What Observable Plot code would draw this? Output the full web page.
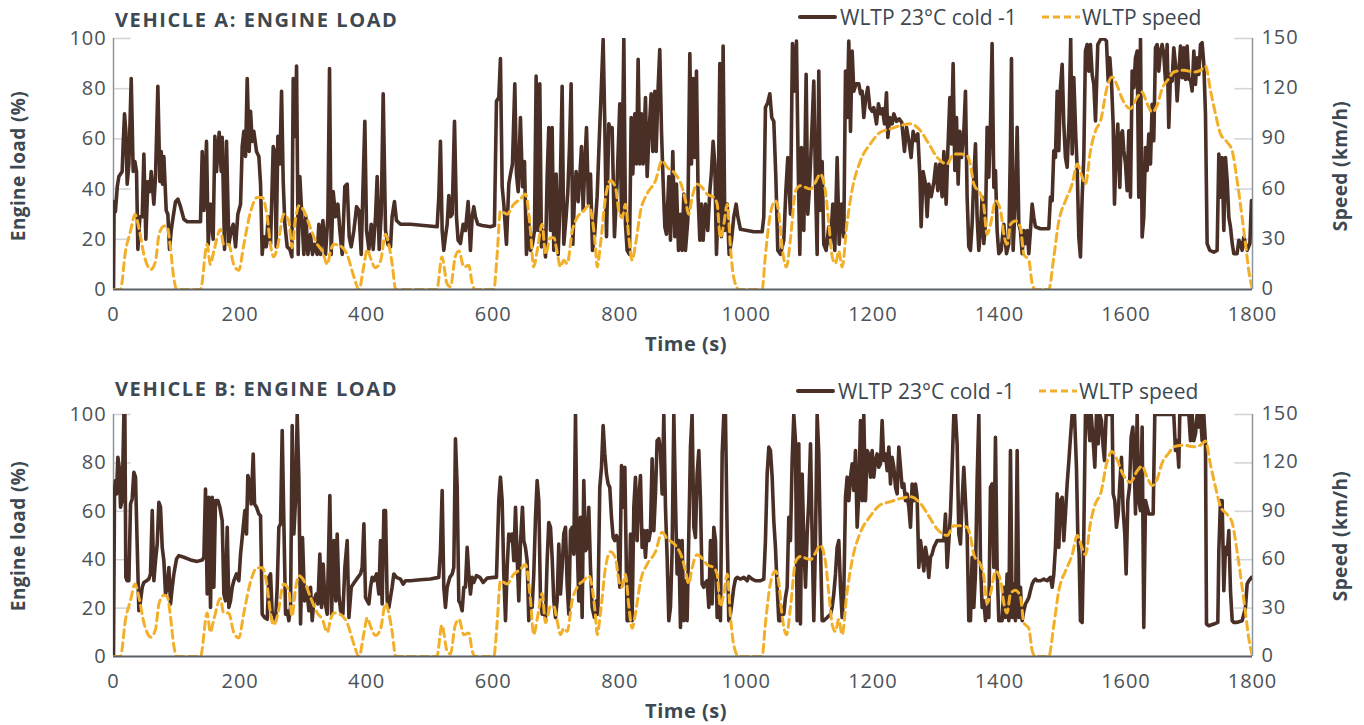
<!DOCTYPE html>
<html>
<head>
<meta charset="utf-8">
<script src="https://cdn.jsdelivr.net/npm/d3@7"></script>
<script src="https://cdn.jsdelivr.net/npm/@observablehq/plot@0.6"></script>
<style>
  html, body { margin: 0; padding: 0; background: #fff; }
  body { font-family: "Open Sans", Lato, sans-serif; }
  #root { position: relative; width: 1364px; height: 725px; overflow: hidden; }
  .panel { position: absolute; left: 0; }
  .title { position: absolute; left: 115px; font-weight: 700; font-size: 20px; color: #3d4850; letter-spacing: 1.6px; line-height: 24px; }
  .legtext { position: absolute; font-size: 21px; color: #3d4850; white-space: nowrap; line-height: 24px; }
  .swatch { position: absolute; }
  .ylab { position: absolute; font-weight: 700; font-size: 19px; color: #3d4850; white-space: nowrap; letter-spacing: 0.4px; line-height: 22px; transform: translate(-50%, -50%) rotate(-90deg); }
  .xlab { position: absolute; font-weight: 700; font-size: 20px; color: #3d4850; white-space: nowrap; letter-spacing: 0.5px; line-height: 22px; transform: translate(-50%, -50%); }
</style>
</head>
<body>
<div id="root">
  <div class="panel" id="panelA" style="top:0"></div>
  <div class="panel" id="panelB" style="top:364px"></div>

  <div class="title" style="top:8px">VEHICLE A: ENGINE LOAD</div>
  <div class="title" style="top:377px">VEHICLE B: ENGINE LOAD</div>

  <svg class="swatch" style="left:798px;top:13px" width="40" height="8"><line x1="2" y1="4" x2="37" y2="4" stroke="#4a2f26" stroke-width="4" stroke-linecap="round"/></svg>
  <div class="legtext" style="left:840px;top:5px">WLTP 23°C cold -1</div>
  <svg class="swatch" style="left:1042px;top:13px" width="40" height="8"><line x1="0" y1="4" x2="38" y2="4" stroke="#f2b02a" stroke-width="3" stroke-dasharray="7,4"/></svg>
  <div class="legtext" style="left:1082px;top:5px">WLTP speed</div>

  <svg class="swatch" style="left:796px;top:387px" width="40" height="8"><line x1="2" y1="4" x2="37" y2="4" stroke="#4a2f26" stroke-width="4" stroke-linecap="round"/></svg>
  <div class="legtext" style="left:838px;top:379px">WLTP 23°C cold -1</div>
  <svg class="swatch" style="left:1039px;top:387px" width="40" height="8"><line x1="0" y1="4" x2="38" y2="4" stroke="#f2b02a" stroke-width="3" stroke-dasharray="7,4"/></svg>
  <div class="legtext" style="left:1079px;top:379px">WLTP speed</div>

  <div class="ylab" style="left:18px;top:166px">Engine load (%)</div>
  <div class="ylab" style="left:1340px;top:166px">Speed (km/h)</div>
  <div class="xlab" style="left:686px;top:344px">Time (s)</div>

  <div class="ylab" style="left:18px;top:536px">Engine load (%)</div>
  <div class="ylab" style="left:1340px;top:536px">Speed (km/h)</div>
  <div class="xlab" style="left:686px;top:711px">Time (s)</div>
</div>

<script>
// Axis ticks
const timeTicks = [0, 200, 400, 600, 800, 1000, 1200, 1400, 1600, 1800];
const loadTicks = [0, 20, 40, 60, 80, 100];
const speedTicks = [0, 30, 60, 90, 120, 150];
const speedMax = 150;

// WLTP speed trace: [time (s), speed (km/h)]
const wltpSpeed = [[0,0],[11,0],[19,23],[27,35],[34,45],[40,37],[48,21],[59,12],[66.5,17],[72,33],[80,38],[85,37],[90,25],[95,7.5],[100,0],[137.5,0],[148,27],[153,15],[158.6,23],[169,36],[174,27],[182,27],[190,15],[198,11.5],[206,27],[217,47],[227,55],[235,55],[243,43],[248,27],[253,19.5],[259,25],[269,45],[277,41],[282,25],[288,43],[293,50],[301,47],[311,37],[322,27],[330,23],[338,15],[343,23],[348,27],[359,26],[369,21],[380,7.5],[388,0],[396,15],[401,24],[406,19],[414,13],[422,17],[430,33],[435,27],[440.5,15],[446,0],[511,0],[519,19.4],[527,3.6],[532.5,1.6],[540,19.4],[546,23],[553.6,13.5],[561.5,14.5],[566.8,3.6],[572,0],[601,0],[606,19.4],[611.5,47],[622,45],[632.6,51],[643,54],[651,57],[659,35],[664,13.5],[669.5,23],[677.4,39],[682.7,21],[690.6,31],[696,31],[701,22.4],[706.4,13.5],[711.6,17.5],[717,15.5],[725,35],[732.7,43],[743,47],[751,50],[756.4,43],[761.7,25],[764.3,13.5],[769.6,27],[777.5,55],[785.4,65],[793.3,61],[798.6,47],[803.8,43],[809,51],[814.4,31],[819.6,17.5],[825,27],[833,47],[843,57],[856.5,65],[867,77],[875,73],[888,69],[898.6,61],[904,53],[909,45],[914.4,55],[922,63],[930,61],[938,57],[948.7,55],[954,51],[959,31],[964.5,39],[970,51],[975,25],[980,7.5],[988,0],[1025,0],[1030,19.4],[1038,45],[1046,53],[1051,47],[1056.7,25],[1063.5,13.5],[1070,31],[1078,59],[1085.6,62],[1093.5,61],[1101.5,60],[1109,64],[1117,69],[1125,59],[1130,41],[1136,19.4],[1141,15.5],[1146,23],[1151.5,13.5],[1159,39],[1167,59],[1180.5,77],[1196,87],[1212,94],[1228,96],[1244,98],[1259.5,99],[1275,95],[1288.5,87],[1301.6,79],[1317.4,75],[1328,81],[1338.5,81],[1349,80],[1354,75],[1359.6,63],[1370,57],[1375,51],[1380.6,33],[1386,39],[1394,53],[1402,47],[1407,33],[1412.2,27],[1417.5,39],[1425.4,41],[1433.3,37],[1438.6,21],[1446.5,17.5],[1451.8,3.6],[1457,0],[1478,0],[1486,19.4],[1494,41],[1504.4,53],[1515,63],[1523,75],[1531,67],[1536,63],[1544,83],[1552,95],[1560,101],[1570.3,121],[1578,127],[1586,122],[1594,114],[1607,108],[1617.7,115],[1625.6,118],[1633.5,111],[1641.4,106],[1649.3,110],[1657.2,120],[1667.7,126],[1675.6,130],[1691.5,131],[1707.3,130],[1717.8,131],[1725.7,133.5],[1733.6,119],[1741.5,105],[1749.4,93],[1760,88],[1767.8,83],[1775.7,65],[1783.6,43],[1789,27],[1794,11.5],[1800,0]];

// Vehicle A engine load: [time (s), load (%)]
const loadA = [[0,0],[1,35],[3,31],[6,41],[8.5,45],[13.7,47],[15.3,58],[17.4,70],[19.5,63],[21.6,42],[24.3,50],[28,84],[31.1,47],[33.8,51],[36.4,47],[38.5,16],[41.7,29],[45.4,29],[48,54],[51.1,20],[54.3,43],[57.5,39],[59.6,47],[63.8,34],[66.4,45],[70.1,81],[73.3,43],[75.4,55],[77.5,42],[79.6,53],[83.3,31.5],[85.9,30],[88.5,16],[91.2,23.5],[94.3,29],[98,35],[101.7,36],[105.9,33],[111.2,28],[116.5,27],[132.3,27],[137.5,27],[140.2,55],[142.8,31.5],[147,59],[149.7,18],[153.3,34],[157.5,20],[160.2,61],[162.8,47],[167,62.6],[170.2,47],[171.8,60.6],[175.5,16],[178.6,59],[182.3,18],[186,23.5],[189.2,26],[192.9,17],[196.5,30],[200.8,34],[203.4,57],[206,63],[208.7,53],[211.3,84],[214.4,55],[216.6,71],[219.2,59],[221.8,63],[226,55],[229.7,53],[232.4,42],[235,14],[237.6,21],[241.3,17],[244.5,29],[248.2,18],[252.4,57],[254.5,55],[257.1,17],[259.8,61],[262.9,50],[265.6,79],[268.2,43],[270.8,26],[274.5,17],[278.7,16],[281.9,13],[284,84],[287.1,61],[289.3,89],[291.9,14],[294.5,45],[297.7,29],[300.8,14],[304,29],[307.2,14],[311.4,22],[314.5,14],[317.7,18],[321.9,14],[324.5,26],[327.2,14],[330.9,27.5],[335.1,14],[338.8,29],[341.4,88],[344,14],[347.2,39],[350.9,29],[354.6,34],[357.7,23.5],[361.4,14],[365.6,41],[369.3,42],[372.5,21],[375.7,17],[379.9,23.5],[384.1,33],[387.8,31.5],[391.5,14],[394.1,39],[397.2,67],[399.9,23.5],[403.6,16],[407.3,26],[410.4,16],[414.1,29],[416.7,45],[419.9,16],[423.1,30],[426.2,78],[429.9,23.5],[433.6,18],[437.8,17],
[440.3,29],[444,35],[447.2,27.5],[453.5,26],[469.3,26],[490.4,25.5],[511.5,25],[514.1,37],[516.7,59],[519.4,23.5],[522,15.6],[524.6,21],[527.3,26],[529.9,37.4],[532.5,29],[535.2,30],[538.9,67],[542,29],[544.6,19.6],[548.3,18.3],[552.5,26],[556.2,23.5],[560.4,35],[564.1,15.6],[566.8,29],[569.4,33],[572,29],[575.7,26],[582.6,25.5],[595.7,25],[602,25.5],[605.2,75],[608.9,76.5],[611.5,92],[614.2,41],[616.8,34],[621,18],[624.7,42],[627.4,46],[630.5,50],[634.2,82],[636.8,46],[639.5,39],[643.1,68.5],[646.3,41],[649.5,51],[652.6,14],[655.8,29],[659,15.6],[662.1,18],[665.3,23.5],[667.9,85],[670.5,23.5],[673.7,82],[676.3,17],[679,23.5],[682.7,13],[685.3,45],[687.9,64.5],[690.6,23.5],[693.2,64.5],[695.8,15.6],[699.5,46],[702.7,14],[705.3,31.5],[709,81],[711.6,18],[715.3,29],[718,39],[720.6,56.6],[723.2,82],[725.9,18],[728.5,37],[731.1,47],[734.3,35],[736.9,45],[739.6,57],[742.2,31.5],[744.8,50],[747.5,64.5],[750.6,34],[753.8,46],[757,15.6],[760.1,21],[764.3,37],[768,62],[771.2,82],[773.8,99.6],[776.4,66],[779.1,21],[782.8,66],[785.4,63],[788,64.5],[791.7,21],[795.9,43],[800.1,74],[802.8,29],[806.5,100],[809.1,26],[811.7,15.6],[815.4,14],[818.1,68.5],[820.7,46],[823.8,70],[826.5,50],[829.1,91.7],[831.7,50],[834.4,70],[837,50],[840.7,76.5],[843.3,45],[846.5,63],[849.7,78],[852.3,55],[855.5,79],[857.6,55],[860.7,80.5],[863.3,95.6],[866,63],[868.6,43],[871.3,25],[873.9,22],[877.6,45],[880.2,19.6],[883.9,55],[887.1,21],[889.7,42],[892.9,15.6],
[896,30],[898.6,15.6],[901.3,38],[903.9,15.6],[907.6,27.5],[910.8,94],[913.4,50],[916,84],[918.7,52.6],[921.3,87],[923.9,37],[926.6,19.6],[929.2,34],[931.8,19.6],[935.5,34],[939.2,23.5],[942.4,39],[945,47],[947.6,59],[950.3,50],[952.9,14],[955.5,34],[958.2,90],[960.8,21],[963.4,97],[966.1,23.5],[969.8,34],[972.9,14],[976.6,19.6],[980.3,29],[984,34],[986.6,29],[990.8,24],[1001.4,23.5],[1011.9,23],[1025.1,23],[1027.7,29],[1030.3,72.5],[1034,74.5],[1037.2,78],[1040.3,68.5],[1043.5,67],[1046.7,45],[1049.8,15.6],[1054,14],[1059.3,19.6],[1062.5,39],[1065.6,52.6],[1069.8,30],[1073,98],[1076.2,79],[1079.3,99],[1082,50],[1084.6,14],[1087.2,56.6],[1090.9,23.5],[1094.6,85.7],[1097.2,30],[1099.9,41],[1103,59],[1106.7,83],[1109.4,42],[1112,14],[1114.6,87],[1117.3,31.5],[1119.9,51],[1122.5,18],[1126.2,15.6],[1130.4,25],[1133.1,18],[1136.7,34],[1139.9,15.6],[1143.6,52.6],[1146.8,18],[1150.4,34],[1154.1,21],[1156.8,87],[1159.4,68.5],[1162,99],[1164.7,63],[1167.3,95],[1169.9,79],[1173.6,82],[1177.8,82],[1180.5,78],[1183.1,79],[1185.7,68.5],[1188.9,76.5],[1192.1,80.5],[1195.2,72.5],[1198.9,71],[1201.5,72.5],[1205.8,66],[1208.9,74],[1212.1,70],[1215.2,72],[1218.4,66],[1221.6,78.4],[1223.7,60.6],[1226.8,68.5],[1230.5,66],[1233.2,70],[1237.4,67],[1241.6,68],[1245.8,66.5],[1250,55],[1253.2,64.6],[1256.9,59.3],[1260.5,52.6],[1263.7,63],[1267.4,59.3],[1271.1,62],[1274.2,46],[1276.3,25],[1279.5,47],[1283.2,42],[1285.8,29],[1288.5,42],[1292.2,37],[1296.4,42.7],[1299.5,50],[1302.7,39.4],[1305.9,50],[1309.5,37],[1312.2,55],[1315.9,34],[1318.5,55],[1321.7,76.5],[1324.3,58],[1326.9,90],[1329.6,47.4],[1332.2,68.5],[1334.8,42],[1337.5,63],[1340.1,52.6],[1343.8,63],[1346.4,79],[1349,37],[1351.7,17],
[1354.3,15.6],[1356.9,26],[1359.6,44.7],[1362.2,58],[1364.8,28.8],[1367.5,15.6],[1370.1,23.5],[1372.7,36.8],[1375.4,18.3],[1378,26],[1380.6,64.6],[1383.3,44.7],[1385.9,66],[1388.5,98],[1391.2,40.7],[1393.8,47.4],[1396.4,23.5],[1399.1,14.3],[1402.8,15.6],[1407,26],[1411.2,14.3],[1414.9,18.3],[1417.5,58],[1419.1,92],[1421.7,15.6],[1425.4,36.8],[1428.1,64.6],[1430.7,26],[1433.3,23.5],[1436,14.3],[1438.6,23.5],[1441.2,18.3],[1443.9,23.5],[1446.5,14.3],[1449.1,23.5],[1451.8,34],[1454.4,28.8],[1457,25],[1464.9,24.2],[1478.1,24.2],[1480.7,36.8],[1483.4,35.4],[1486,55.3],[1488.6,52.6],[1491.3,79],[1493.9,55.3],[1496.5,80.4],[1499.2,89.7],[1501.8,65.9],[1504.4,52.6],[1507.1,48.7],[1510.2,68.5],[1512.7,100],[1515,54],[1517.6,84.4],[1520.8,60.6],[1522.9,48.7],[1525.5,20.9],[1528.1,13],[1530.8,36.8],[1533.4,52.6],[1536,95],[1538.7,97.6],[1541.3,87],[1543.9,97.6],[1546.6,85.7],[1549.2,81.7],[1551.9,67.2],[1555.5,97.6],[1559.8,99.6],[1565,100],[1569.2,99],[1571.9,83],[1574.5,92.3],[1577.1,83],[1579.8,65.9],[1581.9,34],[1584.5,55.3],[1587.1,65.9],[1590.3,40.7],[1592.4,61.9],[1594.5,63.2],[1596.6,55.3],[1599.3,50],[1601.9,39.4],[1604.5,63.2],[1607.2,36.8],[1609.8,87],[1612.4,80.4],[1615.1,92.3],[1617.7,95],[1620.3,36.8],[1623,100],[1625.6,20.9],[1628.2,28.8],[1630.9,56.6],[1633.5,47.4],[1636.1,61.9],[1638.8,50],[1641.4,73.8],[1644,59.3],[1646.7,96.3],[1649.3,97.6],[1651.9,87],[1654.6,95],[1657.2,97.6],[1659.8,93.7],[1662.5,83],[1665.1,97.6],[1667.7,64.6],[1670.4,85.7],[1673,83],[1675.6,96.3],[1678.3,89.7],[1680.9,75.1],[1683.5,85.7],[1686.2,97],[1688.8,84.4],[1691.5,96.3],[1694.1,83.7],[1696.7,97],[1699.4,83.7],[1702,83.7],[1704.6,79.1],[1707.3,95],[1709.9,81.7],[1712.5,92.3],[1715.2,85.7],[1717.8,97.6],[1720.4,98.3],[1723.1,89.7],[1725.7,69.8],[1728.3,18.3],[1732.5,15.6],[1738.9,14.9],[1744.1,15.6],[1746.8,54],[1749.4,36.8],[1752,52.6],[1754.7,23.5],[1757.3,52.6],[1760,43.4],[1762.6,28.8],[1765.2,24.9],[1767.9,18.3],[1770.5,14.3],[1775.7,14.3],[1778.4,19.6],[1781,18.3],[1783.6,15.6],[1786.3,20.9],[1788.9,18.3],[1791.5,15.6],[1795.8,18.3],[1798.4,35.4]];

// Vehicle B engine load: [time (s), load (%)]
const loadB = [[0,0],[1.6,68.6],[3.2,72.7],[4.8,67.2],[6.9,82.3],[9,78.2],[11.1,61.7],[13.7,64.4],[16.4,100],[18,100],[19.5,32.7],[21.6,31.3],[24.3,31.3],[26.9,63],[29.5,65.1],[32.2,76.1],[34.8,74.1],[37.4,46.5],[40.1,18.9],[42.7,23],[45.4,28.6],[48,30.6],[52.2,31.3],[55.9,32],[58.5,34.1],[61.2,60.3],[63.8,31.3],[66.4,39.6],[69.1,46.5],[71.7,63.7],[74.3,61.7],[77,45.1],[79.6,39.6],[82.2,25.8],[84.9,28.6],[87.5,36.8],[90.1,21.7],[92.8,28.6],[95.4,34.1],[99.6,40.3],[103.3,41.7],[111.2,41],[121.7,39.9],[132.3,39.3],[140.2,39.9],[142.8,41],[145.4,69.2],[148.1,25.8],[150.7,65.8],[153.3,20.3],[156,65.8],[158.6,28.6],[161.2,64.4],[164.9,64.4],[168.1,61.7],[171.8,56.1],[174.4,25.8],[177,23],[179.7,53.4],[182.3,20.3],[184.9,23],[187.6,28.6],[190.2,31.3],[194.4,34.1],[198.1,31.3],[200.8,42.3],[205,53.4],[207.6,60.3],[210.2,50.6],[212.3,74.8],[215.5,71.3],[217.6,63],[220.8,83.7],[222.9,63],[226,61.7],[229.7,58.9],[232.4,58.2],[235,17.5],[238.7,16.1],[242.9,15.4],[245.5,32.7],[248.2,34.1],[250.8,17.5],[253.4,17.5],[256.1,14.8],[258.7,28.6],[261.3,53.4],[264,54.8],[266.6,93.4],[269.2,56.1],[271.9,17.5],[274.5,18.9],[277.1,14.8],[279.8,20.3],[282.4,95.4],[285,50.6],[287.7,64.4],[290.3,100],[292.9,74.1],[295.6,13.4],[298.7,49.2],[301.9,23],[305,28.6],[308.8,18.9],[311.4,28.6],[314,14.8],[316.7,23],[320.3,25.8],[323,21.7],[326.1,42.3],[328.8,20.3],[331.4,38.2],[334,23],[337.7,17.5],[341.9,66.5],[344.6,17.5],[348.3,47.9],[351.4,23],[353.5,50.6],[356.2,25.8],[358.8,18.9],[362.5,17.5],[365.6,36.8],[369.3,47.9],[372,16.1],[375.7,28.6],[378.8,29.9],[382.5,31.3],[386.2,32.7],[390.4,34.1],[393,36.8],[395.7,54.8],[398.3,24.4],[401,23],[403.6,21.7],[406.2,28.6],[408.8,32.7],[411.5,31.3],[415.7,34.1],[419.4,25.8],[422,47.9],[424.6,21.7],[427.3,60.3],[429.9,60.3],[432.5,23],[435.2,20.3],
[440.3,28.6],[443,34.1],[447.2,32.7],[453.5,32],[457.7,29.9],[461.4,31.3],[469.3,31.3],[485.1,31.7],[500.9,32],[514.1,32.7],[516.7,43.7],[519.4,68.6],[522,28.6],[524.6,20.3],[527.3,28.6],[531.5,32.7],[535.2,34.1],[537.8,36.8],[540.4,90],[543.1,69.9],[545.7,23],[548.3,21.7],[551,18.9],[553.6,28.6],[556.2,28.6],[558.9,45.1],[561.5,34.1],[564.1,25.8],[566.8,32.7],[569.4,30.6],[573.6,33.4],[578.9,32.7],[584.2,30.6],[590.5,32.4],[601,32.7],[605.2,32.7],[608.9,64.4],[611.5,74.1],[614.2,64.4],[616.8,34.1],[619.5,14.8],[622.1,36.8],[624.7,50.6],[627.4,47.9],[630,50.6],[632.6,39.6],[635.3,61.7],[637.9,41],[640.5,23],[643.1,46.5],[646.3,61.7],[648.4,47.9],[651,45.1],[653.7,39.6],[656.3,14.8],[659,23],[661.6,20.3],[664.2,34.1],[666.9,57.5],[669.5,72.7],[672.1,64.4],[674.8,23],[677.4,17.5],[680,20.3],[682.7,16.1],[685.3,39.6],[687.9,55.4],[690.6,53.4],[693.2,41],[695.8,23],[698.5,16.1],[701.1,23],[703.7,46.5],[706.4,25.8],[709,36.8],[711.6,50.6],[714.3,53.4],[716.9,29.9],[719.5,17.5],[722.2,52],[724.8,53.4],[727.4,42.3],[730.1,100],[732.7,47.9],[735.3,23],[738,57.5],[740.6,16.1],[743.2,72.7],[745.9,43.7],[748.5,45.1],[751.1,61.7],[753.8,36.8],[756.4,20.3],[760.1,16.1],[763.3,23],[765.4,17.5],[768.5,69.9],[771.2,78.2],[773.8,95.4],[776.4,83.7],[779.1,75.4],[781.7,71.3],[784.3,69.9],[787,57.5],[789.6,49.2],[792.2,47.9],[794.9,50],[797.5,47.9],[800.1,28.6],[802.8,78.9],[805.4,61.7],[808.1,78.2],[811.7,14.8],[814.4,14.8],[817,50.6],[819.6,14.8],[822.3,61.7],[824.9,74.1],[827.5,47.9],[830.2,65.8],[832.8,74.8],[835.4,45.1],[838.1,52],[840.7,41],[843.3,52],[846,47.9],[848.6,52],[851.2,81.7],[853.9,52],[856.5,67.2],[859.1,89.2],[861.8,90],[864.4,85.1],[867,67.2],[869.7,100],[872.3,61.7],[874.9,41],[877.6,14.8],[880.2,20.3],[882.8,43.7],[885.5,100],[888.1,64.4],[890.7,34.1],[893.4,47.9],
[896,12],[898.6,47.9],[901.3,14.8],[903.9,31.3],[906.5,14.8],[909.2,50.6],[911.8,86.5],[914.4,100],[917.1,53.4],[919.7,49.2],[922.3,75.4],[925,85.1],[927.6,64.4],[930.2,29.9],[932.9,28.6],[935.5,30.6],[938.1,31.3],[940.8,20.3],[943.4,47.9],[946,21.7],[948.7,53.4],[951.3,47.9],[954,16.1],[956.6,23],[959.2,14.8],[961.9,83.7],[964.5,100],[967.1,100],[969.8,50.6],[972.4,14.8],[975,17.5],[977.7,23],[980.3,28.6],[982.9,32],[985.6,32.7],[990.8,32],[996.1,32.7],[1001.4,31.3],[1004,33.1],[1009.3,32],[1014.5,31.3],[1022.4,31.3],[1027.7,32],[1030.3,47.9],[1033,75.4],[1035.6,86.5],[1038.2,85.1],[1040.9,74.1],[1043.5,56.1],[1046.1,45.1],[1048.8,28.6],[1051.4,14.8],[1054,14.8],[1056.7,20.3],[1059.3,17.5],[1061.9,24.4],[1064.6,28.6],[1067.2,57.5],[1069.8,47.9],[1072.5,81],[1075.1,100],[1077.7,89.2],[1080.4,14.8],[1083,87.9],[1085.6,13.4],[1088.3,75.4],[1090.9,47.9],[1093.6,28.6],[1096.2,50.6],[1098.8,64.4],[1101.5,87.9],[1104.1,49.2],[1106.7,14.8],[1109.4,47.9],[1112,100],[1114.6,83.7],[1117.3,45.1],[1119.9,14.8],[1122.5,14.8],[1127.8,16.1],[1133.1,17.5],[1135.7,20.3],[1138.3,25.8],[1141,34.1],[1143.6,45.1],[1146.2,47.9],[1148.9,28.6],[1151.5,16.1],[1154.1,25.8],[1156.8,65.8],[1159.4,74.1],[1162,64.4],[1164.7,74.1],[1167.3,79.6],[1169.9,68.6],[1172.6,85.1],[1175.2,53.4],[1177.8,67.2],[1180.5,97.5],[1183.1,64.4],[1185.7,100],[1188.4,64.4],[1191,85.1],[1193.6,83.7],[1196.3,74.1],[1198.9,85.1],[1201.5,74.1],[1204.2,81],[1206.8,83.7],[1209.4,78.2],[1212.1,79.6],[1214.7,97.5],[1217.3,81],[1220,83.7],[1222.6,76.8],[1225.3,86.5],[1227.9,71.3],[1230.5,82.3],[1233.2,78.2],[1235.8,69.9],[1238.4,67.2],[1241.1,86.5],[1243.7,78.2],[1246.3,69.9],[1249,71.3],[1251.6,64.4],[1254.2,67.2],[1256.9,61.7],[1259.5,53.4],[1262.1,71.3],[1264.8,64.4],[1267.4,71.3],[1270,65.8],[1272.7,36.8],[1275.3,47.9],[1277.9,42.3],[1280.6,35.4],[1283.2,45.1],[1285.8,41],[1288.5,32.7],[1291.1,41],[1293.7,42.3],[1296.4,45.1],[1299,46.5],[1301.6,47.9],[1306.9,47.9],[1312.2,47.9],[1314.8,58.9],[1317.4,36.8],[1320.1,47.9],[1322.7,58.9],[1325.3,78.2],[1328,100],[1330.6,100],[1333.2,87.9],[1335.9,50.6],[1338.5,46.5],[1341.1,64.4],[1343.8,78.2],[1346.4,64.4],[1349,50.6],[1351.7,14.8],
[1354.3,14.8],[1356.9,41],[1359.6,20.3],[1362.2,34.1],[1364.8,72.7],[1367.5,100],[1370.1,39.6],[1372.7,20.3],[1375.4,23],[1378,14.8],[1380.6,20.3],[1383.3,16.1],[1385.9,69.9],[1388.5,71.3],[1391.2,36.8],[1393.8,90.6],[1396.4,36.8],[1399.1,14.8],[1404.3,14.8],[1407,28.6],[1409.6,16.1],[1412.2,34.1],[1414.9,14.8],[1417.5,85.1],[1420.2,16.1],[1422.8,29.9],[1425.4,14.8],[1428.1,85.1],[1430.7,16.1],[1433.3,28.6],[1436,14.8],[1438.6,18.9],[1441.2,21.7],[1443.9,23],[1446.5,24.4],[1449.1,27.2],[1451.8,29.9],[1454.4,31.3],[1457,32],[1459.7,31.3],[1464.9,31.3],[1470.2,32],[1475.5,31.3],[1480.7,32.7],[1483.4,28.6],[1486,34.1],[1488.6,45.1],[1491.3,67.2],[1493.9,45.1],[1496.5,64.4],[1499.2,65.8],[1501.8,47.9],[1504.4,58.9],[1507.1,71.3],[1510.2,82.3],[1512.7,92],[1515,100],[1518.7,100],[1521.8,78.2],[1523.9,50.6],[1526,42.3],[1528.1,14.8],[1530.8,14.1],[1533.4,50.6],[1536,100],[1539.7,100],[1542.9,89.2],[1545,100],[1548.2,89.2],[1550.8,78.2],[1553.4,100],[1556.1,87.9],[1558.7,100],[1561.3,97.5],[1564,86.5],[1566.1,81],[1568.7,100],[1572.9,100],[1578.2,100],[1579.8,67.2],[1582.4,64.4],[1585,53.4],[1587.7,58.9],[1590.3,71.3],[1592.9,82.3],[1595.6,60.3],[1598.2,50.6],[1600.3,34.1],[1603,64.4],[1605.6,69.9],[1608.2,90.6],[1610.9,94.8],[1612.4,86.5],[1615.1,58.9],[1617.7,100],[1620.3,64.4],[1623,60.3],[1625.6,94.8],[1628.2,12],[1630.9,64.4],[1633.5,61.7],[1636.1,58.9],[1638.8,58.9],[1643,58.9],[1645.6,100],[1651.9,100],[1659.8,100],[1670.4,100],[1675.6,100],[1678.3,85.1],[1680.9,89.2],[1683.5,78.2],[1685.1,100],[1691.5,100],[1696.7,100],[1699.4,100],[1702,89.2],[1704.6,100],[1707.3,89.2],[1709.9,92],[1712.5,100],[1715.2,94.8],[1717.8,100],[1720.4,89.2],[1723.1,100],[1725.7,87.9],[1727.3,13.4],[1731,12.7],[1738.9,13.4],[1745.2,14.1],[1746.8,43.7],[1749.4,64.4],[1752,64.4],[1754.7,27.2],[1757.3,45.1],[1760,42.3],[1762.6,52],[1765.2,27.2],[1767.9,14.8],[1770.5,14.1],[1775.7,14.1],[1783.6,14.8],[1786.3,17.5],[1788.9,20.3],[1791.5,29.9],[1794.2,31.3],[1798.4,32.7]];

const brown = "#4a2f26";
const amber = "#f2b02a";
const inkTick = "#4b5258";
const tickLen = 28; // seconds, short inward tick marks

const toRows = (pairs) => pairs.map(([t, v]) => ({t, v}));
const speedRows = toRows(wltpSpeed);

function panel(loadPairs, {height, marginTop, marginBottom}) {
  return Plot.plot({
    width: 1364,
    height,
    marginLeft: 113,
    marginRight: 112,
    marginTop,
    marginBottom,
    style: {fontFamily: "'Open Sans', Lato, sans-serif", fontSize: "20px", color: inkTick, background: "transparent", letterSpacing: "0.9px"},
    x: {domain: [0, 1800]},
    y: {domain: [0, 100]},
    marks: [
      // short inner tick marks on both vertical axes
      Plot.ruleY(loadTicks.slice(1), {x1: 0, x2: tickLen, stroke: "#d3d6d9", strokeWidth: 1.6}),
      Plot.ruleY(loadTicks.slice(1), {x1: 1800 - tickLen, x2: 1800, stroke: "#d3d6d9", strokeWidth: 1.6}),
      Plot.axisY({anchor: "left", ticks: loadTicks, tickSize: 0, tickPadding: 7, label: null, fill: inkTick}),
      Plot.axisY({anchor: "right", ticks: loadTicks, tickSize: 0, tickPadding: 9, tickFormat: (d) => String(d * speedMax / 100), label: null, fill: inkTick, dy: -1}),
      Plot.axisX({ticks: timeTicks, tickSize: 0, tickPadding: 17, tickFormat: (d) => String(d), label: null, fill: inkTick}),
      Plot.ruleX([0], {stroke: "#8d959b", strokeWidth: 1.5}),
      Plot.ruleX([1800], {stroke: "#8d959b", strokeWidth: 1.5}),
      Plot.lineY(toRows(loadPairs), {x: "t", y: "v", stroke: brown, strokeWidth: 3.6, strokeLinejoin: "round", clip: true}),
      Plot.lineY(speedRows, {x: "t", y: (d) => d.v * 100 / speedMax, stroke: amber, strokeWidth: 3, strokeDasharray: "8,5", curve: "monotone-x", clip: true}),
      Plot.ruleY([0], {stroke: "#5b6166", strokeWidth: 2})
    ]
  });
}

document.getElementById("panelA").append(panel(loadA, {height: 364, marginTop: 38, marginBottom: 75}));
document.getElementById("panelB").append(panel(loadB, {height: 361, marginTop: 50, marginBottom: 69}));
</script>
</body>
</html>
